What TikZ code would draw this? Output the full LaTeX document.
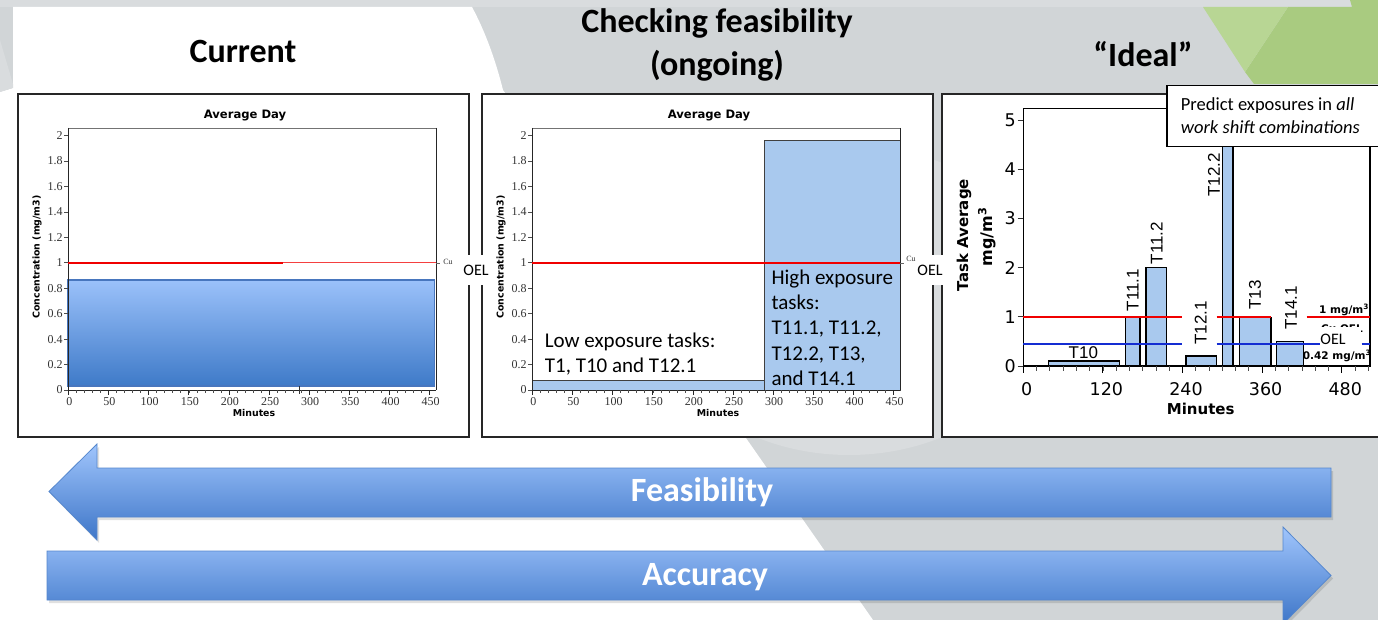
\documentclass[tikz,border=0pt]{standalone}
\usepackage{fontspec}
\setmainfont{Carlito}
\newfontfamily\dvf{DejaVu Sans}
\newfontfamily\lsf{Liberation Serif}
\newfontfamily\arf{Liberation Sans}
\definecolor{bggrey}{RGB}{209,213,215}
\definecolor{bglight}{RGB}{217,220,222}
\definecolor{gdark}{RGB}{169,203,128}
\definecolor{glight}{RGB}{184,214,148}
\definecolor{barblue}{RGB}{169,201,238}
\definecolor{arrtop}{RGB}{160,197,252}
\definecolor{arrbot}{RGB}{62,118,200}
\definecolor{arredge}{RGB}{85,135,205}
\definecolor{areatop}{RGB}{155,193,250}
\definecolor{areabot}{RGB}{62,122,200}
\definecolor{areaedge}{RGB}{72,118,190}
\definecolor{oelred}{RGB}{240,0,0}
\definecolor{oelblue}{RGB}{20,45,210}
\tikzset{
  box/.style={draw=black!85, line width=1.6pt, fill=white, anchor=north west, inner sep=0pt},
  ttl/.style={font=\fontsize{34}{40}\selectfont\bfseries, inner sep=0pt, anchor=base},
  avgttl/.style={font=\dvf\bfseries\fontsize{11.6}{13}\selectfont, inner sep=0pt},
  avglab/.style={font=\dvf\bfseries\fontsize{9.4}{11}\selectfont, inner sep=0pt},
  ticklab/.style={font=\lsf\fontsize{12}{14}\selectfont, text=black!80, inner sep=0pt},
  midtxt/.style={font=\fontsize{21}{25}\selectfont, inner sep=0pt, anchor=base west},
  oelw/.style={font=\fontsize{16}{19}\selectfont, fill=white, inner xsep=1pt, inner ysep=0pt, minimum height=29pt},
  midbar/.style={fill=barblue, draw=black!75, line width=0.8pt},
  rbar/.style={fill=barblue, draw=black, line width=1.5pt},
  rnum/.style={font=\dvf\fontsize{17.5}{20}\selectfont, inner sep=0pt},
  rax/.style={font=\dvf\bfseries\fontsize{15}{18}\selectfont, inner sep=0pt},
  tlab/.style={font=\arf\fontsize{17}{20}\selectfont, inner sep=0pt},
  limlab/.style={font=\dvf\bfseries\fontsize{10.5}{12}\selectfont, inner sep=0pt},
  calltxt/.style={font=\fontsize{18.5}{22}\selectfont, inner sep=0pt, anchor=base west},
  arrshape/.style={top color=arrtop, bottom color=arrbot, draw=arredge, line width=0.8pt},
  arrtxt/.style={font=\fontsize{34}{40}\selectfont\bfseries, text=white, inner sep=0pt},
}
\newcommand\avgaxes[1]{%
  \node[avgttl] (#1title) at (245,116) {Average Day};
  \draw[black!55, line width=0.8pt] (68.3,128) -- (436,128);
  \draw[black!85, line width=1pt] (436,128) -- (436,390);
  \draw[black!85, line width=1pt] (68.3,128) -- (68.3,390) -- (436,390);
  \foreach \v [count=\i] in {0,0.2,0.4,0.6,0.8,1,1.2,1.4,1.6,1.8,2} {
    \draw[black!70, line width=0.6pt] (64.3,{390-127.2*\v}) -- (68.3,{390-127.2*\v});
    \node[ticklab, anchor=east] (#1y\i) at (62.8,{390-127.2*\v}) {\v};
  }
  \foreach \m in {0,10,...,450} \draw[black!70, line width=0.5pt] ({68.3+0.803*\m},390) -- ++(0,2.5);
  \foreach \m [count=\i] in {0,50,...,450} {
    \draw[black!85, line width=0.6pt] ({68.3+0.803*\m},390) -- ++(0,4.5);
    \node[ticklab] (#1x\i) at ({69.3+0.803*\m},402) {\m};
  }
  \node[avglab] (#1xl) at (254,413) {Minutes};
  \node[avglab, rotate=90] (#1yl) at (37,257) {Concentration (mg/m3)};
}
\begin{document}
\begin{tikzpicture}[x=1pt,y=-1pt]
\useasboundingbox (0,0) rectangle (1378,620);
\clip (0,0) rectangle (1378,620);
% ---------- background ----------
\fill[bggrey] (0,0) rectangle (1378,620);
\fill[bglight] (0,0) rectangle (1352,7);
\fill[bglight] (849,300) ellipse [x radius=199, y radius=155];
\fill[white] (13,7) -- (472,7) .. controls (486,33) and (496,62) .. (503,90) -- (873,620) -- (0,620) -- (0,92) -- (13,88) -- cycle;
\fill[bglight] (0,40) -- (13,84) -- (13,88) -- (0,92) -- cycle;
\fill[gdark] (1288,7) -- (1352,7) -- (1350,0) -- (1378,0) -- (1378,84) -- (1254,84) -- (1245,72) -- cycle;
\fill[glight] (1203,7) -- (1288,7) -- (1245,72) -- cycle;
% ---------- titles ----------
\node[ttl] (tCur) at (243,63) {Current};
\node[ttl] (tChk1) at (717,33) {Checking feasibility};
\node[ttl] (tChk2) at (717,76) {(ongoing)};
\node[ttl] (tIde) at (1143,67) {“Ideal”};
% ---------- boxes ----------
\node[box, minimum width=451pt, minimum height=343pt] (boxL) at (17,93) {};
\node[box, minimum width=451pt, minimum height=343pt] (boxM) at (481,93) {};
\node[box, minimum width=460pt, minimum height=343pt] (boxR) at (941,93) {};
% ---------- left chart ----------
\shade[top color=areatop, bottom color=areabot] (67.3,280) rectangle (434.3,386);
\draw[areaedge, line width=1.2pt] (67.3,280) rectangle (434.3,386);
\avgaxes{L}
\draw[oelred, line width=1.5pt] (68.3,263) -- (283,263);
\draw[oelred!75, line width=1pt] (283,263) -- (436,263);
\draw[black!60, line width=0.5pt] (436,263) -- (440,263);
\node[ticklab, font=\lsf\fontsize{8}{9}\selectfont] (cuL) at (448,262) {Cu};
\draw[black!80, line width=0.8pt] (299.3,386) -- (299.3,394);
% ---------- middle chart ----------
\begin{scope}[xshift=464pt]
\draw[midbar] (68.3,380.3) rectangle (300.7,390);
\draw[midbar] (300.7,140.3) rectangle (436.3,390);
\avgaxes{M}
\draw[oelred, line width=1.5pt] (68.3,263) -- (436,263);
\draw[black!60, line width=0.5pt] (436,263) -- (440,263);
\end{scope}
\node[midtxt] (low1) at (544.7,347.3) {Low exposure tasks:};
\node[midtxt] (low2) at (544.7,372.6) {T1, T10 and T12.1};
\node[midtxt] (hi1) at (771.3,284) {High exposure};
\node[midtxt] (hi2) at (771.3,309.4) {tasks:};
\node[midtxt] (hi3) at (771.3,334.8) {T11.1, T11.2,};
\node[midtxt] (hi4) at (771.3,360.2) {T12.2, T13,};
\node[midtxt] (hi5) at (771.3,385.6) {and T14.1};
\node[oelw] (oel1) at (476,270) {OEL};
\node[oelw] (oel2) at (930,270) {OEL};
\node[ticklab, font=\lsf\fontsize{8}{9}\selectfont] (cuM) at (911,259) {Cu};
% ---------- right chart ----------
\draw[rbar] (1048.3,361) rectangle (1119.3,366);
\draw[rbar] (1125.3,317.3) rectangle (1140,366);
\draw[rbar] (1146,267.7) rectangle (1166.3,366);
\draw[rbar] (1186,356) rectangle (1216.3,366);
\draw[rbar] (1222.7,100) rectangle (1233,366);
\draw[rbar] (1239.3,317.3) rectangle (1271,366);
\draw[rbar] (1276.7,341.7) rectangle (1303.3,366);
\draw[black, line width=1.2pt] (1023.3,366) -- (1023.3,108.3) -- (1370,108.3) -- (1370,366) -- cycle;
\foreach \m in {0,20,...,520} \draw[black!70, line width=0.8pt] ({1023.3+0.6633*\m},366) -- ++(0,5);
\foreach \m [count=\i] in {0,120,240,360,480} {
  \draw[black, line width=1pt] ({1023.3+0.6633*\m},366) -- ++(0,7);
  \node[rnum] (rx\i) at ({1026.8+0.6633*\m},389) {\m};
}
\foreach \v [count=\i] in {0,1,2,3,4,5} {
  \draw[black!80, line width=0.8pt] (1017.5,{366-49.2*\v}) -- (1023.3,{366-49.2*\v});
  \node[rnum, anchor=east] (ry\i) at (1016,{366-49.2*\v}) {\v};
}
\draw[oelred, line width=2pt] (1023.3,317.3) -- (1182.3,317.3);
\draw[oelred, line width=2pt] (1216.7,317.3) -- (1271,317.3);
\draw[oelred, line width=2pt] (1306.7,317.3) -- (1370,317.3);
\draw[oelblue, line width=2pt] (1023.3,343.5) -- (1182.3,343.5);
\draw[oelblue, line width=2pt] (1216.7,343.5) -- (1320,343.5);
\draw[oelblue, line width=2pt] (1361.7,343.5) -- (1370,343.5);
\node[tlab] (lT10) at (1083.3,353) {T10};
\node[tlab, rotate=90] (lT111) at (1132.7,290) {T11.1};
\node[tlab, rotate=90] (lT112) at (1156.7,243) {T11.2};
\node[tlab, rotate=90] (lT121) at (1200.7,323) {T12.1};
\node[tlab, rotate=90] (lT122) at (1214,175) {T12.2};
\node[tlab, rotate=90] (lT13) at (1255,295) {T13};
\node[tlab, rotate=90] (lT141) at (1291,308) {T14.1};
\node[limlab] (l1mg) at (1344,310) {1 mg/m\textsuperscript{3}};
\node[limlab] (lcu) at (1342,328.5) {Cu OEL};
\node[fill=white, inner sep=0pt, minimum width=41pt, minimum height=22pt] (oelbg) at (1340.5,338) {};
\node[font=\fontsize{16}{19}\selectfont, inner sep=0pt] (oelR) at (1333,339.5) {OEL};
\node[limlab] (l042) at (1337,355.7) {0.42 mg/m\textsuperscript{3}};
\node[rax, rotate=90] (rylab1) at (964,235) {Task Average};
\node[rax, rotate=90, font=\dvf\bfseries\fontsize{16}{19}\selectfont] (rylab2) at (987,237) {mg/m\textsuperscript{3}};
\node[rax] (rxlab) at (1200.7,409) {Minutes};
% callout
\node[draw=black, line width=1.5pt, fill=white, anchor=north west, inner sep=0pt, minimum width=216pt, minimum height=61pt] (call) at (1166,85) {};
\node[calltxt] (call1) at (1180.7,110.7) {Predict exposures in \textit{all}};
\node[calltxt] (call2) at (1180.7,133.3) {\textit{work shift combinations}};
% ---------- arrows ----------
\path[fill=black, opacity=0.12] (51,494.5) -- (99,447) -- (99,471) -- (1333,471) -- (1333,520) -- (99,520) -- (99,543) -- cycle;
\shade[arrshape] (49,491.5) -- (97,444) -- (97,468) -- (1331,468) -- (1331,517) -- (97,517) -- (97,540) -- cycle;
\node[arrtxt] (feas) at (702,492) {Feasibility};
\path[fill=black, opacity=0.12] (49,554) -- (1285,554) -- (1285,530) -- (1333,578.5) -- (1285,627) -- (1285,603) -- (49,603) -- cycle;
\shade[arrshape] (47,551) -- (1283,551) -- (1283,527) -- (1331,575.5) -- (1283,624) -- (1283,600) -- (47,600) -- cycle;
\node[arrtxt] (accu) at (705,577) {Accuracy};
\end{tikzpicture}
\end{document}
